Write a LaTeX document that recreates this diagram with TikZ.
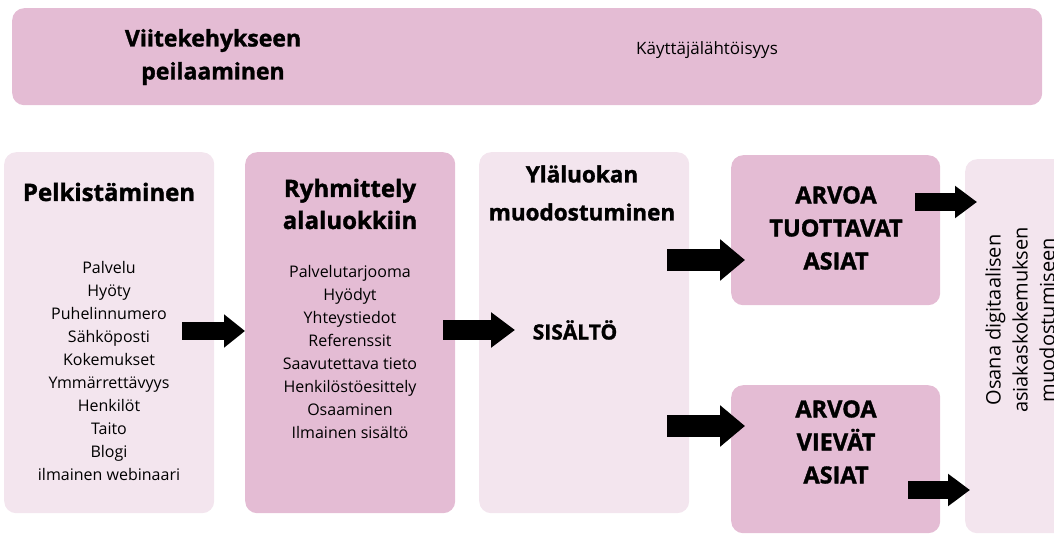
\documentclass[tikz,border=0pt]{standalone}
\usepackage{fontspec}
\setmainfont{Open Sans}[BoldFeatures={FakeBold=1.4}]
\usetikzlibrary{arrows.meta}
\definecolor{pinkdark}{HTML}{E4BCD4}
\definecolor{pinklight}{HTML}{F3E5EE}
\tikzset{
  boxdark/.style={fill=pinkdark, rounded corners=12pt, inner sep=0pt, anchor=north west},
  boxlight/.style={fill=pinklight, rounded corners=12pt, inner sep=0pt, anchor=north west},
  blockarrow/.style n args={3}{line width=#1, black, -{Triangle[length=#3, width=#2]}},
  txt/.style={align=center, inner sep=0pt, text=black},
}
\begin{document}
\begin{tikzpicture}[x=1pt,y=-1pt]
\useasboundingbox (0,0) rectangle (1054,534);
\clip (0,0) rectangle (1054,534);
% boxes
\node[boxdark, minimum width=1030pt, minimum height=97pt] (top) at (12,8) {};
\node[boxlight, minimum width=210pt, minimum height=361pt] (b1) at (4,152) {};
\node[boxdark, minimum width=210pt, minimum height=361pt] (b2) at (245,152) {};
\node[boxlight, minimum width=210pt, minimum height=361pt] (b3) at (479,152) {};
\node[boxdark, minimum width=209pt, minimum height=150pt] (b4) at (731,155) {};
\node[boxdark, minimum width=209pt, minimum height=148pt] (b5) at (731,385) {};
\node[boxlight, minimum width=120pt, minimum height=374pt] (b6) at (965,159) {};
% texts
\node[txt, font=\bfseries\fontsize{23}{33}\selectfont] (t0) at (213,57) {Viitekehykseen\\peilaaminen};
\node[txt, font=\fontsize{17}{20}\selectfont] (t0b) at (707,50) {Käyttäjälähtöisyys};
\node[txt, font=\bfseries\fontsize{24}{32}\selectfont] (t1) at (109,192) {Pelkistäminen};
\node[txt, font=\fontsize{16}{23}\selectfont] (l1) at (109,371) {Palvelu\\Hyöty\\Puhelinnumero\\Sähköposti\\Kokemukset\\Ymmärrettävyys\\Henkilöt\\Taito\\Blogi\\ilmainen webinaari};
\node[txt, font=\bfseries\fontsize{24}{32}\selectfont] (t2) at (350,204) {Ryhmittely\\alaluokkiin};
\node[txt, font=\fontsize{16}{23}\selectfont] (l2) at (350,352) {Palvelutarjooma\\Hyödyt\\Yhteystiedot\\Referenssit\\Saavutettava tieto\\Henkilöstöesittely\\Osaaminen\\Ilmainen sisältö};
\node[txt, font=\bfseries\fontsize{22.5}{38}\selectfont] (t3) at (582,193) {Yläluokan\\muodostuminen};
\node[txt, font=\bfseries\fontsize{21}{24}\selectfont] (s3) at (575,330) {SISÄLTÖ};
\node[txt, font=\bfseries\fontsize{23.5}{33}\selectfont] (t4) at (836,228) {ARVOA\\TUOTTAVAT\\ASIAT};
\node[txt, font=\bfseries\fontsize{23.5}{33}\selectfont] (t5) at (836,442) {ARVOA\\VIEVÄT\\ASIAT};
\node[txt, rotate=90, font=\fontsize{20}{27}\selectfont] (t6) at (1020,320) {Osana digitaalisen\\asiakaskokemuksen\\muodostumiseen};
% arrows
\coordinate (a1) at (182,331);
\draw[blockarrow={18pt}{32pt}{21pt}] (a1) -- (b2.west |- a1);
\coordinate (a2) at (443,330);
\coordinate (a2e) at (515,330);
\draw[blockarrow={19pt}{34pt}{24pt}] (a2) -- (a2e);
\coordinate (a3) at (667,260);
\coordinate (a3e) at (745,260);
\draw[blockarrow={22pt}{40pt}{25pt}] (a3) -- (a3e);
\coordinate (a4) at (667,426);
\coordinate (a4e) at (745,426);
\draw[blockarrow={22pt}{40pt}{25pt}] (a4) -- (a4e);
\coordinate (a5) at (915,202);
\coordinate (a5e) at (977,202);
\draw[blockarrow={18pt}{31pt}{22pt}] (a5) -- (a5e);
\coordinate (a6) at (908,490);
\coordinate (a6e) at (970,490);
\draw[blockarrow={18pt}{31pt}{22pt}] (a6) -- (a6e);
\end{tikzpicture}
\end{document}
